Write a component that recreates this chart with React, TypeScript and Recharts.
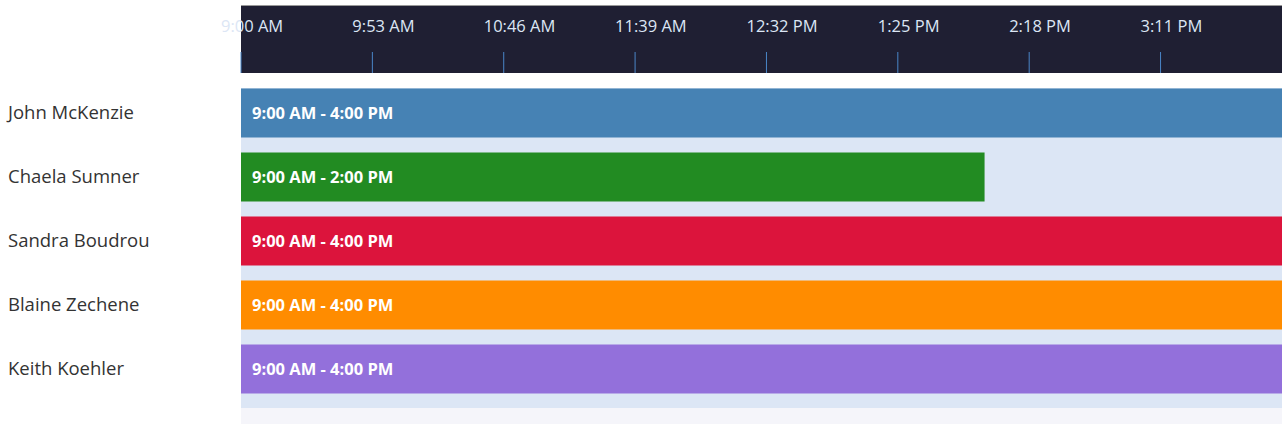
import React from 'react';
import { BarChart, Bar, XAxis, YAxis, Cell, LabelList } from 'recharts';

// shift times in minutes after midnight
const people = ['John McKenzie', 'Chaela Sumner', 'Sandra Boudrou', 'Blaine Zechene', 'Keith Koehler'];
const shiftStart = [540, 540, 540, 540, 540];
const shiftEnd = [960, 840, 960, 960, 960];
const barColors = ['#4682B4', '#228B22', '#DC143C', '#FF8C00', '#9370DB'];
const timeTicks = [540, 593, 646, 699, 752, 805, 858, 911];

const fmt = (m: number) => {
  const h = Math.floor(m / 60);
  const mm = m % 60;
  const h12 = h % 12 === 0 ? 12 : h % 12;
  return `${h12}:${mm < 10 ? '0' : ''}${mm} ${h < 12 ? 'AM' : 'PM'}`;
};

const data = people.map((name, i) => ({
  name,
  range: [shiftStart[i], shiftEnd[i]],
  label: `${fmt(shiftStart[i])} - ${fmt(shiftEnd[i])}`,
}));

const FONT = '"Open Sans", Lato, sans-serif';

const TimeTick = (props: any) => {
  const { x, y, payload } = props;
  return (
    <g>
      <line x1={x} x2={x} y1={y - 28.5} y2={y - 7.5} stroke="#4a86c8" strokeWidth={1} />
      <text x={x - 20} y={y - 48.5} textAnchor="start" fontSize={16.5} fontFamily={FONT} fill="#dce6f5">
        {fmt(payload.value)}
      </text>
    </g>
  );
};

const NameTick = (props: any) => {
  const { y, payload } = props;
  return (
    <text x={8} y={y} dy={6.5} textAnchor="start" fontSize={18.5} fontFamily={FONT} fill="#333">
      {payload.value}
    </text>
  );
};

const BarText = (props: any) => {
  const { x, y, height, value } = props;
  return (
    <text x={x + 11} y={y + height / 2} dy={6} fontSize={16.5} fontWeight="bold" fontFamily={FONT} fill="#fff">
      {value}
    </text>
  );
};

export default function App() {
  return (
    <div style={{ position: 'absolute', left: 0, top: 0, width: 1283, height: 429, background: '#fff' }}>
      {/* header strip and row background */}
      <div style={{ position: 'absolute', left: 241, top: 5, width: 1041, height: 68, background: '#1f1f33', borderTop: '1px solid #999', boxSizing: 'border-box' }} />
      <div style={{ position: 'absolute', left: 241, top: 88, width: 1041, height: 320, background: '#dce6f5' }} />
      <div style={{ position: 'absolute', left: 241, top: 408, width: 1041, height: 16, background: '#f5f5fa' }} />
      <BarChart
        width={1283}
        height={429}
        data={data}
        layout="vertical"
        margin={{ top: 5, right: 1, bottom: 28.5, left: 0 }}
        barSize={49}
        style={{ position: 'absolute', left: 0, top: 0 }}
      >
        <XAxis
          type="number"
          orientation="top"
          domain={[540, 960]}
          ticks={timeTicks}
          height={75.5}
          axisLine={false}
          tickLine={false}
          tickSize={0}
          tickMargin={0}
          tick={<TimeTick />}
          interval={0}
        />
        <YAxis
          type="category"
          dataKey="name"
          width={241}
          axisLine={false}
          tickLine={false}
          tickSize={0}
          tickMargin={0}
          tick={<NameTick />}
          interval={0}
        />
        <Bar dataKey="range" isAnimationActive={false}>
          {data.map((d, i) => (
            <Cell key={d.name} fill={barColors[i]} />
          ))}
          <LabelList dataKey="label" content={<BarText />} />
        </Bar>
      </BarChart>
    </div>
  );
}
